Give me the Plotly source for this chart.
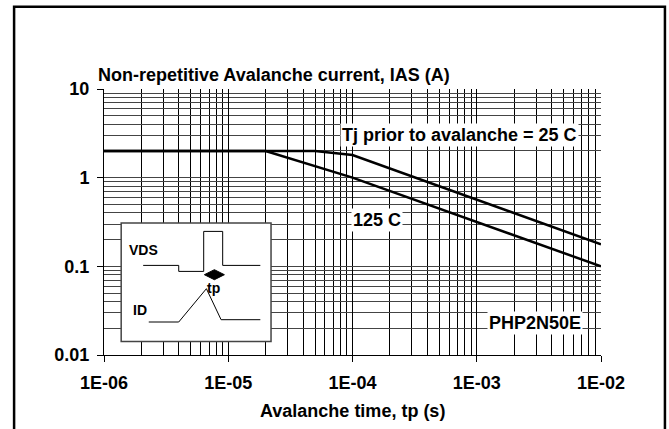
import plotly.graph_objects as go

# ---- data ----
t_25c = [1e-6, 5e-5, 1e-4, 1e-2]
ias_25c = [2.0, 2.0, 1.8, 0.177]
t_125c = [1e-6, 2e-5, 1e-4, 1e-2]
ias_125c = [2.0, 2.0, 1.0, 0.1]

x_tickvals = [1e-6, 1e-5, 1e-4, 1e-3, 1e-2]
x_ticktext = ["1E-06", "1E-05", "1E-04", "1E-03", "1E-02"]
y_tickvals = [0.01, 0.1, 1, 10]
y_ticktext = ["0.01", "0.1", "1", "10"]

x_minor = [m * 10.0 ** e for e in range(-6, -2) for m in range(2, 10)]
y_minor = [m * 10.0 ** e for e in range(-2, 1) for m in range(2, 10)]

# ---- layout geometry (window pixels) ----
W, H = 669, 429
L, R, T, B = 103.5, 601, 89.3, 355.3


def px(x):
    return (x - L) / (R - L)


def py(y):
    return (B - y) / (B - T)


FONT = "Liberation Sans, Arial, sans-serif"

fig = go.Figure()
fig.add_trace(go.Scatter(x=t_25c, y=ias_25c, mode="lines",
                         line=dict(color="black", width=2.5), showlegend=False))
fig.add_trace(go.Scatter(x=t_125c, y=ias_125c, mode="lines",
                         line=dict(color="black", width=2.5), showlegend=False))

tickfont = dict(family=FONT, size=18, color="black", weight="bold")

fig.update_xaxes(type="log", range=[-6, -2], tickvals=x_tickvals, ticktext=x_ticktext,
                 ticks="outside", ticklen=6, tickcolor="black", tickwidth=1,
                 ticklabelstandoff=5,
                 showline=True, linecolor="black", linewidth=1,
                 showgrid=True, gridcolor="black", gridwidth=1, zeroline=False,
                 tickfont=tickfont,
                 minor=dict(tickvals=x_minor, showgrid=True, gridcolor="black",
                            gridwidth=1, ticks=""))
fig.update_yaxes(type="log", range=[-2, 1], tickvals=y_tickvals, ticktext=y_ticktext,
                 ticks="outside", ticklen=6, tickcolor="black", tickwidth=1,
                 ticklabelstandoff=4,
                 showline=True, linecolor="black", linewidth=1,
                 showgrid=True, gridcolor="#444444", gridwidth=1, zeroline=False,
                 tickfont=tickfont,
                 minor=dict(tickvals=y_minor, showgrid=True, gridcolor="#444444",
                            gridwidth=1, ticks=""))

shapes = []
# outer frame
shapes.append(dict(type="rect", xref="paper", yref="paper",
                   x0=px(13.5), x1=px(665), y0=py(445), y1=py(7),
                   line=dict(color="black", width=2.5), fillcolor="rgba(0,0,0,0)",
                   layer="above"))
# inset box
shapes.append(dict(type="rect", xref="paper", yref="paper",
                   x0=px(120.7), x1=px(270.7), y0=py(341.7), y1=py(223.3),
                   line=dict(color="#444444", width=1.5), fillcolor="white",
                   layer="above"))


def path_from(points, close=False):
    s = "M " + " L ".join(f"{px(a):.5f},{py(b):.5f}" for a, b in points)
    return s + (" Z" if close else "")


vds_wave = [(142.7, 265.7), (178.3, 265.7), (178.3, 271.7), (203.3, 271.7),
            (203.3, 231.7), (222.3, 231.7), (222.3, 265.7), (260, 265.7)]
id_wave = [(148.3, 322.3), (178.3, 322.3), (206, 289), (220.7, 320), (260, 320)]
diamond = [(204, 275), (214, 270), (224, 275), (214, 280)]

shapes.append(dict(type="path", xref="paper", yref="paper", path=path_from(vds_wave),
                   line=dict(color="black", width=1), layer="above"))
shapes.append(dict(type="path", xref="paper", yref="paper", path=path_from(id_wave),
                   line=dict(color="black", width=1), layer="above"))
shapes.append(dict(type="path", xref="paper", yref="paper", path=path_from(diamond, True),
                   line=dict(color="black", width=1), fillcolor="black", layer="above"))

annfont = dict(family=FONT, size=18, color="black", weight="bold")
insetfont = dict(family=FONT, size=14, color="black", weight="bold")


def ann(text, x, y, font, xanchor="center", bg=None):
    d = dict(text=text, x=px(x), y=py(y), xref="paper", yref="paper",
             xanchor=xanchor, yanchor="middle", showarrow=False, font=font)
    if bg:
        d.update(bgcolor=bg, borderpad=1)
    return d


annotations = [
    ann("Non-repetitive Avalanche current, IAS (A)", 95, 75, annfont, xanchor="left"),
    ann("Avalanche time, tp (s)", 352, 411.7, annfont),
    ann("Tj prior to avalanche = 25 C", 459, 135, annfont, bg="white"),
    ann("125 C", 376.7, 220.7, annfont, bg="white"),
    ann("PHP2N50E", 534.7, 323.3, annfont, bg="white"),
    ann("VDS", 143.3, 250.7, insetfont),
    ann("tp", 213, 288.3, insetfont),
    ann("ID", 140, 310, insetfont),
]

fig.update_layout(width=W, height=H, margin=dict(l=L, r=W - R, t=T, b=H - B, pad=0),
                  paper_bgcolor="white", plot_bgcolor="white",
                  shapes=shapes, annotations=annotations, showlegend=False)

fig.write_html("out.html",
               config={"displayModeBar": False},
               post_script="document.body.style.margin='0';"
                           "document.body.style.overflow='hidden';")
